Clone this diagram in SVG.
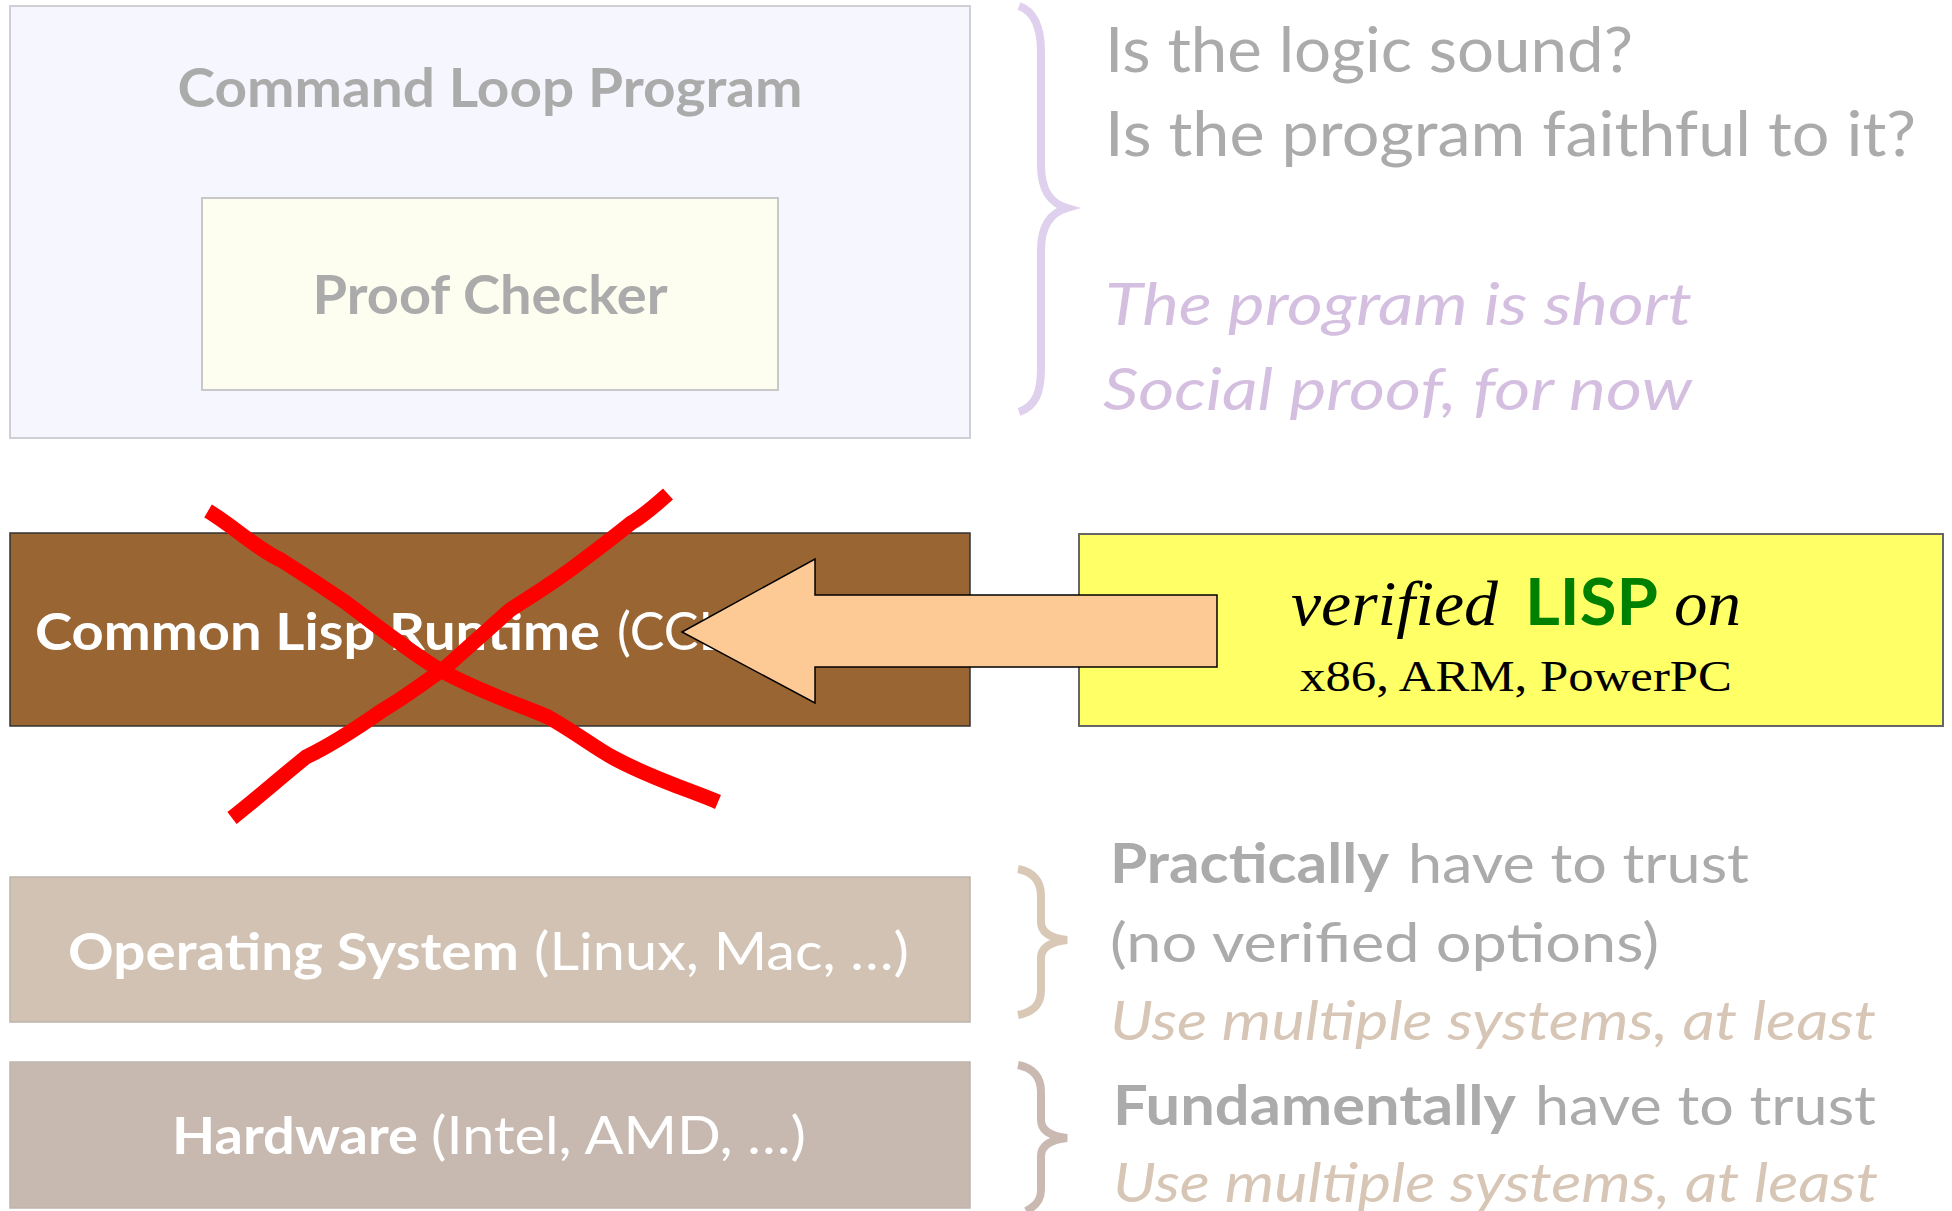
<svg xmlns="http://www.w3.org/2000/svg" width="1952" height="1211" viewBox="0 0 1952 1211">
<style>
.sans{font-family:Lato,"Open Sans","Liberation Sans",sans-serif}
.b{font-weight:bold}
.it{font-style:italic}
.gray{fill:#ababab}
.white{fill:#ffffff}
.purple{fill:#d5bfe0}
.tan{fill:#d7c6b5}
.serif{font-family:"Liberation Serif","DejaVu Serif",serif;fill:#000}
.brace{fill:none;stroke-width:8;stroke-linecap:butt}
</style>
<rect width="1952" height="1211" fill="#ffffff"/>

<g id="command-loop">
<rect x="10" y="6" width="960" height="432" fill="#f5f6fe" stroke="#cfcfd6" stroke-width="2"/>
<text class="sans b gray" x="490" y="107" font-size="53" text-anchor="middle" textLength="625" lengthAdjust="spacingAndGlyphs">Command Loop Program</text>
</g>
<g id="proof-checker">
<rect x="202" y="198" width="576" height="192" fill="#fdfeef" stroke="#c8c8c8" stroke-width="2"/>
<text class="sans b gray" x="490" y="314" font-size="53" text-anchor="middle" textLength="355" lengthAdjust="spacingAndGlyphs">Proof Checker</text>
</g>

<g id="runtime">
<rect x="10" y="533" width="960" height="193" fill="#996633" stroke="#333" stroke-width="1.5"/>
<text class="sans b white" x="35" y="650" font-size="52" textLength="565" lengthAdjust="spacingAndGlyphs">Common Lisp Runtime</text>
<text class="sans white" x="617" y="650" font-size="52">(CCL)</text>
</g>

<g id="verified-lisp">
<rect x="1079" y="534" width="864" height="192" fill="#ffff66" stroke="#666" stroke-width="2"/>
<text class="serif it" x="1291" y="625" font-size="64" textLength="207" lengthAdjust="spacingAndGlyphs">verified</text>
<text class="sans b" x="1525" y="625" font-size="65" fill="#008000" textLength="133" lengthAdjust="spacingAndGlyphs">LISP</text>
<text class="serif it" x="1674" y="625" font-size="64" textLength="67" lengthAdjust="spacingAndGlyphs">on</text>
<text class="serif" x="1300" y="691" font-size="45" textLength="432" lengthAdjust="spacingAndGlyphs">x86, ARM, PowerPC</text>
</g>

<g id="operating-system">
<rect x="10" y="877" width="960" height="145" fill="#d1c2b3" stroke="#bdb5ad" stroke-width="1.5"/>
<text class="sans b white" x="68" y="970" font-size="52" textLength="451" lengthAdjust="spacingAndGlyphs">Operating System</text>
<text class="sans white" x="534" y="970" font-size="52" textLength="375" lengthAdjust="spacingAndGlyphs">(Linux, Mac, …)</text>
</g>

<g id="hardware">
<rect x="10" y="1062" width="960" height="146" fill="#c7b8b0" stroke="#bdb5ad" stroke-width="1.5"/>
<text class="sans b white" x="172" y="1154" font-size="52" textLength="246" lengthAdjust="spacingAndGlyphs">Hardware</text>
<text class="sans white" x="431" y="1154" font-size="52" textLength="375" lengthAdjust="spacingAndGlyphs">(Intel, AMD, …)</text>
</g>

<g id="annotations">
<text class="sans gray" x="1105" y="72" font-size="61" textLength="528" lengthAdjust="spacingAndGlyphs">Is the logic sound?</text>
<text class="sans gray" x="1105" y="156" font-size="61" textLength="811" lengthAdjust="spacingAndGlyphs">Is the program faithful to it?</text>
<text class="sans it purple" x="1105" y="325" font-size="59" textLength="587" lengthAdjust="spacingAndGlyphs">The program is short</text>
<text class="sans it purple" x="1103" y="410" font-size="59" textLength="589" lengthAdjust="spacingAndGlyphs">Social proof, for now</text>

<text class="sans b gray" x="1110" y="883" font-size="55" textLength="279" lengthAdjust="spacingAndGlyphs">Practically</text>
<text class="sans gray" x="1408" y="883" font-size="55" textLength="341" lengthAdjust="spacingAndGlyphs">have to trust</text>
<text class="sans gray" x="1110" y="962" font-size="55" textLength="549" lengthAdjust="spacingAndGlyphs">(no verified options)</text>
<text class="sans it tan" x="1110" y="1040" font-size="55" textLength="766" lengthAdjust="spacingAndGlyphs">Use multiple systems, at least</text>
<text class="sans b gray" x="1113" y="1125" font-size="55" textLength="403" lengthAdjust="spacingAndGlyphs">Fundamentally</text>
<text class="sans gray" x="1535" y="1125" font-size="55" textLength="341" lengthAdjust="spacingAndGlyphs">have to trust</text>
<text class="sans it tan" x="1113" y="1202" font-size="55" textLength="765" lengthAdjust="spacingAndGlyphs">Use multiple systems, at least</text>
</g>

<g id="connectors">
<path class="brace" stroke="#dfd0ee" d="M1019,6 C1036,12 1041,30 1041,52 L1041,165 C1041,190 1050,203 1067,208 C1050,213 1041,226 1041,250 L1041,368 C1041,392 1036,406 1019,412"/>
<path class="brace" stroke="#d9c8b6" d="M1018,869 C1034,872 1041,882 1041,896 L1041,922 C1041,932 1050,938 1067,940 C1050,942 1041,948 1041,958 L1041,990 C1041,1004 1034,1012 1018,1015"/>
<path class="brace" stroke="#c9b9b1" d="M1018,1065 C1034,1068 1041,1078 1041,1092 L1041,1120 C1041,1130 1050,1136 1067,1138 C1050,1140 1041,1146 1041,1156 L1041,1190 C1041,1200 1036,1206 1026,1211"/>
<path d="M682,632 L815,559 L815,595 L1217,595 L1217,667 L815,667 L815,703 Z" fill="#fdca96" stroke="#000" stroke-width="1.5" stroke-linejoin="miter"/>
<path d="M208,511 C232,525 258,550 281,560 C300,572 320,585 345,602 C380,628 410,652 440,670 C480,692 520,705 548,717 C575,732 595,748 612,757 C650,778 690,790 718,802" fill="none" stroke="#ff0000" stroke-width="15" stroke-linecap="butt"/>
<path d="M668,494 C650,510 640,518 631,523 C610,540 590,555 574,567 C550,585 525,600 510,610 C485,632 465,650 446,667 C420,686 400,700 383,710 C350,733 325,748 306,757 C280,778 255,800 232,818" fill="none" stroke="#ff0000" stroke-width="15" stroke-linecap="butt"/>
</g>
</svg>
